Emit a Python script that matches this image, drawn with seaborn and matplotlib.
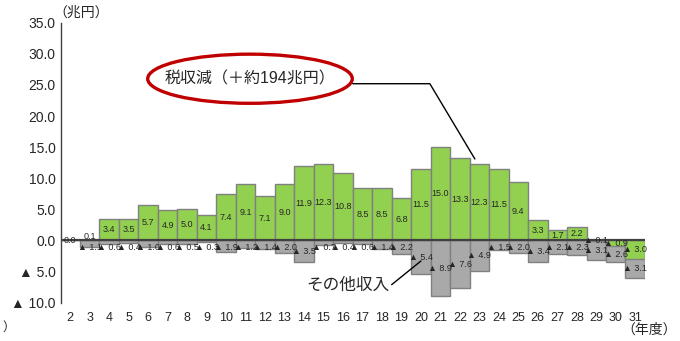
import matplotlib
matplotlib.use("Agg")
import matplotlib.pyplot as plt
from matplotlib.patches import Ellipse
import seaborn as sns
import numpy as np
import pandas as pd

# DATA
years = list(range(2, 32))
tax_decrease = [0.0, 0.1, 3.4, 3.5, 5.7, 4.9, 5.0, 4.1, 7.4, 9.1,
                7.1, 9.0, 11.9, 12.3, 10.8, 8.5, 8.5, 6.8, 11.5, 15.0,
                13.3, 12.3, 11.5, 9.4, 3.3, 1.7, 2.2, -0.1, -0.9, -3.0]
other_revenue = [0.0, -1.1, -0.6, -0.4, -1.0, -0.6, -0.5, -0.3, -1.9, -1.2,
                 -1.4, -2.0, -3.5, -0.7, -0.4, -0.6, -1.4, -2.2, -5.4, -8.9,
                 -7.6, -4.9, -1.5, -2.0, -3.4, -2.1, -2.3, -3.1, -2.6, -3.1]
y_ticks = [35, 30, 25, 20, 15, 10, 5, 0, -5, -10]
y_ticklabels = ["35.0", "30.0", "25.0", "20.0", "15.0", "10.0", "5.0", "0.0", "▲ 5.0", "▲ 10.0"]

sns.set_style("white")
plt.rcParams['font.family'] = ['Liberation Sans', 'DejaVu Sans', 'Noto Sans CJK JP']

GREEN = "#92D050"
GRAY = "#A9A9A9"
EDGE = "#808080"


def fmt(v):
    if v < 0:
        return f"▲ {-v:.1f}"
    return f"{v:.1f}"


def main():
    df = pd.DataFrame({"year": years, "tax": tax_decrease, "other": other_revenue})
    # gray bars stack below negative tax bars
    df["green_neg"] = df["tax"].clip(upper=0)
    df["gray_total"] = df["other"] + df["green_neg"]

    fig = plt.figure(figsize=(6.8, 3.41), dpi=100)
    ax = fig.add_axes([0.0897, 0.1123, 0.8588, 0.821])

    sns.barplot(data=df, x="year", y="gray_total", native_scale=True, width=1.0,
                color=GRAY, saturation=1, edgecolor=EDGE, linewidth=1.0,
                errorbar=None, ax=ax)
    sns.barplot(data=df, x="year", y="tax", native_scale=True, width=1.0,
                color=GREEN, saturation=1, edgecolor=EDGE, linewidth=1.0,
                errorbar=None, ax=ax)

    ax.axhline(0, color="#404040", lw=1.6, zorder=5)

    # value labels
    for _, r in df.iterrows():
        v = r["tax"]
        if r["year"] == 2:
            ty = 0.0
        elif 0 < v < 1:
            ty = 0.7
        else:
            ty = v / 2
        ax.text(r["year"], ty, fmt(v), ha="center", va="center", fontsize=6.5, zorder=6)
        g = r["other"]
        if g < 0:
            gy = r["green_neg"] + g / 2
            if r["tax"] >= 0:
                gy = min(gy, -1.1)
            ax.text(r["year"], gy, fmt(g), ha="center", va="center", fontsize=6.5, zorder=6)

    ax.set_xlim(1.53, 31.5)
    ax.set_ylim(-10, 35)
    ax.set_xticks(years)
    ax.set_xticklabels([str(y) for y in years], fontsize=9)
    ax.set_yticks(y_ticks)
    ax.set_yticklabels(y_ticklabels, fontsize=10)
    ax.set_xlabel("")
    ax.set_ylabel("")
    ax.tick_params(axis="x", length=0, pad=7)
    ax.tick_params(axis="y", direction="in", length=3, width=1, color="#404040", pad=4)
    for s in ["top", "right", "bottom"]:
        ax.spines[s].set_visible(False)
    ax.spines["left"].set_color("#404040")
    ax.spines["left"].set_linewidth(1.0)

    # annotations
    ell = Ellipse((11.23, 26.0), 10.5, 7.9, fill=False, edgecolor="#C00000", lw=2.4, zorder=7)
    ax.add_patch(ell)
    ax.text(11.23, 26.0, "税収減（＋約194兆円）", ha="center", va="center", fontsize=11.5, zorder=8)
    ax.plot([16.5, 20.46, 22.77], [25.2, 25.2, 13.1], color="black", lw=1.0, zorder=7)
    ax.text(16.25, -7.2, "その他収入", ha="center", va="center", fontsize=12, zorder=8)
    ax.plot([18.5, 20.0], [-7.1, -3.3], color="black", lw=1.0, zorder=7)

    fig.text(0.12, 0.963, "（兆円）", ha="center", va="center", fontsize=10)
    fig.text(0.955, 0.032, "（年度）", ha="center", va="center", fontsize=10)
    fig.text(0.004, 0.038, "）", ha="left", va="center", fontsize=9)

    fig.savefig("out.png", dpi=100)
    plt.close(fig)


if __name__ == "__main__":
    main()
